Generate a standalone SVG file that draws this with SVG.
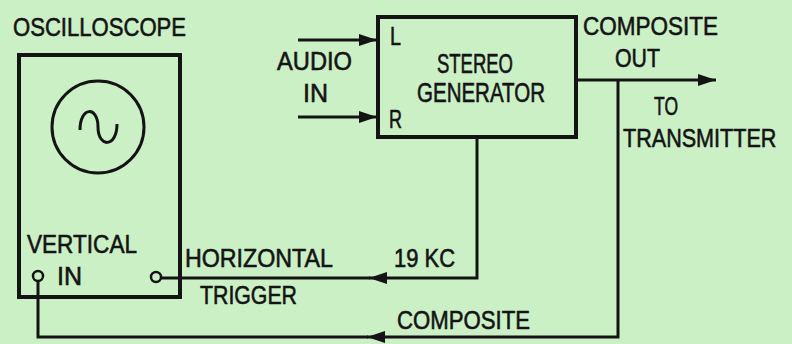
<svg xmlns="http://www.w3.org/2000/svg" width="792" height="344" viewBox="0 0 792 344">
<style>
.bg{fill:#ccf0c6}
.box{fill:none;stroke:#141414;stroke-width:4}
.ln{fill:none;stroke:#141414;stroke-width:3}
.term{fill:#ccf0c6;stroke:#141414;stroke-width:2.5}
text{font-family:"Liberation Sans","DejaVu Sans",sans-serif;font-size:26px;fill:#141414;stroke:#141414;stroke-width:0.6}
.big{font-size:27px}
</style>
<defs>
<marker id="arr" markerUnits="userSpaceOnUse" markerWidth="20" markerHeight="14" refX="18" refY="6" orient="auto">
<path d="M0,0 L18,6 L0,12 z" fill="#141414"/>
</marker>
</defs>
<rect class="bg" x="0" y="0" width="792" height="344"/>

<g id="connectors">
<path class="ln" d="M298 40 H377" marker-end="url(#arr)"/>
<path class="ln" d="M298 117 H377" marker-end="url(#arr)"/>
<path class="ln" d="M577 80 H716" marker-end="url(#arr)"/>
<path class="ln" d="M477 137 V278 H369" marker-end="url(#arr)"/>
<path class="ln" d="M370 278 H161"/>
<path class="ln" d="M618 80 V337 H367" marker-end="url(#arr)"/>
<path class="ln" d="M368 337 H38 V280"/>
</g>

<g id="oscilloscope">
<text x="13" y="36" textLength="173" lengthAdjust="spacingAndGlyphs">OSCILLOSCOPE</text>
<rect class="box" x="19" y="55" width="161" height="242"/>
<circle cx="98" cy="127" r="46" fill="none" stroke="#141414" stroke-width="3"/>
<path class="ln" d="M80 130 C80 106,98 106,98 127 C98 148,117 148,117 124"/>
<text x="27" y="253" textLength="110" lengthAdjust="spacingAndGlyphs">VERTICAL</text>
<text x="57" y="285" textLength="25" lengthAdjust="spacingAndGlyphs">IN</text>
<circle class="term" cx="38" cy="276" r="5"/>
<circle class="term" cx="156" cy="277" r="5"/>
</g>

<g id="stereo-generator">
<rect class="box" x="378" y="17" width="198" height="120"/>
<text x="390" y="45" textLength="11" lengthAdjust="spacingAndGlyphs">L</text>
<text x="389" y="128" textLength="13" lengthAdjust="spacingAndGlyphs">R</text>
<text class="big" x="437" y="73" textLength="76" lengthAdjust="spacingAndGlyphs">STEREO</text>
<text class="big" x="417" y="102" textLength="128" lengthAdjust="spacingAndGlyphs">GENERATOR</text>
</g>

<g id="labels">
<text x="277" y="70" textLength="75" lengthAdjust="spacingAndGlyphs">AUDIO</text>
<text x="303" y="102" textLength="25" lengthAdjust="spacingAndGlyphs">IN</text>
<text x="583" y="35" textLength="135" lengthAdjust="spacingAndGlyphs">COMPOSITE</text>
<text x="615" y="67" textLength="45" lengthAdjust="spacingAndGlyphs">OUT</text>
<text x="654" y="115" textLength="24" lengthAdjust="spacingAndGlyphs">TO</text>
<text transform="translate(623,147) scale(0.83,1)" x="0" y="0">TRANSMITTER</text>
<text x="185" y="267" textLength="148" lengthAdjust="spacingAndGlyphs">HORIZONTAL</text>
<text x="200" y="304" textLength="97" lengthAdjust="spacingAndGlyphs">TRIGGER</text>
<text x="394" y="267" textLength="61" lengthAdjust="spacingAndGlyphs">19 KC</text>
<text x="397" y="329" textLength="133" lengthAdjust="spacingAndGlyphs">COMPOSITE</text>
</g>
</svg>
